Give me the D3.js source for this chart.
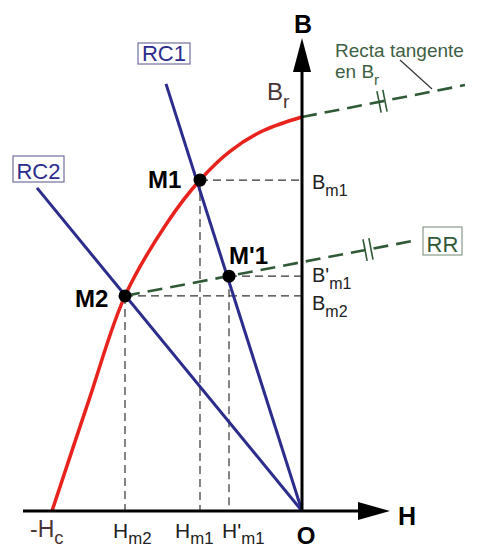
<!DOCTYPE html>
<html>
<head>
<meta charset="utf-8">
<script src="https://cdn.jsdelivr.net/npm/d3@7"></script>
<style>
  body { margin: 0; background: #fff; }
  svg { display: block; font-family: "Liberation Sans", Arial, sans-serif; }
</style>
</head>
<body>
<div id="chart"></div>
<script>
// demagnetisation curve (second quadrant), H in units where Hc = 10, B where Br = 10
const curveH = [-10, -8.52, -7.08, -5.4, -4.08, -2.88, -1.56, 0];
const curveB = [0, 2.82, 5.46, 7.31, 8.40, 9.13, 9.65, 10];

// working points
const pointNames = ["M1", "M2", "M'1"];
const pointH = [-4.08, -7.08, -2.92];
const pointB = [8.40, 5.46, 5.96];

// load lines (from O to their far end)
const loadNames = ["RC1", "RC2"];
const loadEndH = [-5.44, -10.6];
const loadEndB = [10.84, 8.2];

// recoil line RR (from M2) and tangent at Br
const recoilEnd = [4.64, 6.88];
const tangentStart = [0, 10];
const tangentEnd = [6.52, 10.81];

const width = 480, height = 549;
const x = d3.scaleLinear().domain([-10, 0]).range([52, 302]);
const y = d3.scaleLinear().domain([0, 10]).range([511, 117]);

const svg = d3.select('#chart').append('svg')
    .attr('width', width)
    .attr('height', height);

svg.append('rect').attr('width', width).attr('height', height).attr('fill', '#fff');

const blue = '#2b2c8c', red = '#e8221c', green = '#2f5a36', brown = '#4a3434';

// helper: text with subscript
function subText(g, px, py, main, sub, opts) {
    const t = g.append('text')
        .attr('x', px).attr('y', py)
        .attr('font-size', opts.size)
        .attr('fill', opts.color || '#111')
        .attr('font-weight', opts.weight || 'normal');
    t.append('tspan').text(main);
    if (sub) {
        t.append('tspan')
            .attr('dy', opts.size * (opts.drop || 0.35))
            .attr('font-size', opts.size * 0.8)
            .text(sub);
    }
    return t;
}

// guide dashes from the points to the axes
const guides = svg.append('g')
    .attr('stroke', '#333')
    .attr('stroke-width', 1.2)
    .attr('stroke-dasharray', '8,5')
    .attr('fill', 'none');
pointNames.forEach((n, i) => {
    guides.append('line')
        .attr('x1', x(pointH[i])).attr('y1', y(pointB[i]))
        .attr('x2', x(0)).attr('y2', y(pointB[i]));
    guides.append('line')
        .attr('x1', x(pointH[i])).attr('y1', y(pointB[i]))
        .attr('x2', x(pointH[i])).attr('y2', y(0));
});

// green dashed lines: tangent at Br and recoil line
const dashed = svg.append('g')
    .attr('stroke', green)
    .attr('stroke-width', 2.6)
    .attr('stroke-dasharray', '15,8')
    .attr('fill', 'none');
dashed.append('line')
    .attr('x1', x(tangentStart[0])).attr('y1', y(tangentStart[1]))
    .attr('x2', x(tangentEnd[0])).attr('y2', y(tangentEnd[1]));
dashed.append('line')
    .attr('x1', x(pointH[1])).attr('y1', y(pointB[1]))
    .attr('x2', x(recoilEnd[0])).attr('y2', y(recoilEnd[1]));

// parallel marks
function parallelMark(h0, b0, h1, b1, hAt) {
    const t = (hAt - h0) / (h1 - h0);
    const px = x(h0) + t * (x(h1) - x(h0));
    const py = y(b0) + t * (y(b1) - y(b0));
    const dx = x(h1) - x(h0), dy = y(b1) - y(b0);
    const len = Math.hypot(dx, dy);
    const ux = dx / len, uy = dy / len;
    const nx = -uy, ny = ux;
    [-3, 3].forEach(off => {
        const cx = px + ux * off, cy = py + uy * off;
        svg.append('line')
            .attr('x1', cx - nx * 11).attr('y1', cy - ny * 11)
            .attr('x2', cx + nx * 11).attr('y2', cy + ny * 11)
            .attr('stroke', green).attr('stroke-width', 1.6);
    });
}
parallelMark(tangentStart[0], tangentStart[1], tangentEnd[0], tangentEnd[1], 3.2);
parallelMark(pointH[1], pointB[1], recoilEnd[0], recoilEnd[1], 2.64);

// leader from the note to the tangent
svg.append('line')
    .attr('x1', 400).attr('y1', 60)
    .attr('x2', 432).attr('y2', 89)
    .attr('stroke', '#333').attr('stroke-width', 1.2);

// load lines
loadNames.forEach((n, i) => {
    svg.append('line')
        .attr('x1', x(0)).attr('y1', y(0))
        .attr('x2', x(loadEndH[i])).attr('y2', y(loadEndB[i]))
        .attr('stroke', blue)
        .attr('stroke-width', 3);
});

// demagnetisation curve
const curveData = curveH.map((h, i) => [h, curveB[i]]);
svg.append('path')
    .datum(curveData)
    .attr('fill', 'none')
    .attr('stroke', red)
    .attr('stroke-width', 3.5)
    .attr('d', d3.line().x(d => x(d[0])).y(d => y(d[1])).curve(d3.curveCatmullRom.alpha(0.5)));

// axes with arrows
const axes = svg.append('g');
axes.append('line')
    .attr('x1', 23).attr('y1', y(0))
    .attr('x2', 362).attr('y2', y(0))
    .attr('stroke', '#000').attr('stroke-width', 3);
axes.append('path')
    .attr('d', `M390,${y(0)} L358,${y(0) - 9} L358,${y(0) + 9} Z`)
    .attr('fill', '#000');
axes.append('line')
    .attr('x1', x(0)).attr('y1', y(0) + 1)
    .attr('x2', x(0)).attr('y2', 68)
    .attr('stroke', '#000').attr('stroke-width', 3);
axes.append('path')
    .attr('d', `M${x(0)},38 L${x(0) - 9},72 L${x(0) + 9},72 Z`)
    .attr('fill', '#000');

axes.append('text').attr('x', x(0) + 1).attr('y', 33)
    .attr('text-anchor', 'middle').attr('font-size', 25).attr('font-weight', 'bold')
    .text('B');
axes.append('text').attr('x', 398).attr('y', 525)
    .attr('font-size', 25).attr('font-weight', 'bold')
    .text('H');
axes.append('text').attr('x', x(0) + 4).attr('y', 544)
    .attr('text-anchor', 'middle').attr('font-size', 24).attr('font-weight', 'bold')
    .text('O');

// points
pointNames.forEach((n, i) => {
    svg.append('circle')
        .attr('cx', x(pointH[i])).attr('cy', y(pointB[i]))
        .attr('r', 6.5).attr('fill', '#000');
});
const pointLabelDx = [-52, -50, 0];
const pointLabelDy = [8, 11, -12];
pointNames.forEach((n, i) => {
    svg.append('text')
        .attr('x', x(pointH[i]) + pointLabelDx[i])
        .attr('y', y(pointB[i]) + pointLabelDy[i])
        .attr('font-size', 24).attr('font-weight', 'bold')
        .text(n);
});

// H tick labels
const hLabels = [["-H", "c"], ["H", "m2"], ["H", "m1"], ["H'", "m1"]];
const hLabelAt = [-10, pointH[1], pointH[0], pointH[2]];
const hLabelDx = [-22, -12, -25, -7];
hLabels.forEach((l, i) => {
    subText(svg, x(hLabelAt[i]) + hLabelDx[i], i === 0 ? 537 : 538, l[0], l[1],
        { size: i === 0 ? 23 : 21, color: i === 0 ? brown : '#222', drop: 0.3 });
});

// B tick labels
const bLabels = [["B", "m1"], ["B'", "m1"], ["B", "m2"]];
const bLabelAt = [pointB[0], pointB[2], pointB[1]];
const bLabelDy = [9, 6, 14];
bLabels.forEach((l, i) => {
    subText(svg, x(0) + 10, y(bLabelAt[i]) + bLabelDy[i], l[0], l[1], { size: 20, color: '#222' });
});

// Br label
subText(svg, 267, 100, 'B', 'r', { size: 24, color: brown });

// boxed line names
function boxLabel(px, py, txt, color, border, w, h) {
    const g = svg.append('g');
    g.append('rect')
        .attr('x', px).attr('y', py).attr('width', w).attr('height', h)
        .attr('fill', '#fff').attr('stroke', border).attr('stroke-width', 1.2);
    g.append('text')
        .attr('x', px + w / 2).attr('y', py + h - 3)
        .attr('text-anchor', 'middle')
        .attr('font-size', 22).attr('fill', color)
        .text(txt);
}
boxLabel(138, 43, 'RC1', blue, '#7070a0', 52, 21);
boxLabel(13, 156, 'RC2', blue, '#7070a0', 51, 26);
boxLabel(423, 227, 'RR', green, '#8a9a8a', 39, 28);

// note
svg.append('text').attr('x', 335).attr('y', 57)
    .attr('font-size', 19).attr('fill', '#3f5f44')
    .text('Recta tangente');
subText(svg, 335, 78, 'en B', 'r', { size: 19, color: '#3f5f44' });
</script>
</body>
</html>
